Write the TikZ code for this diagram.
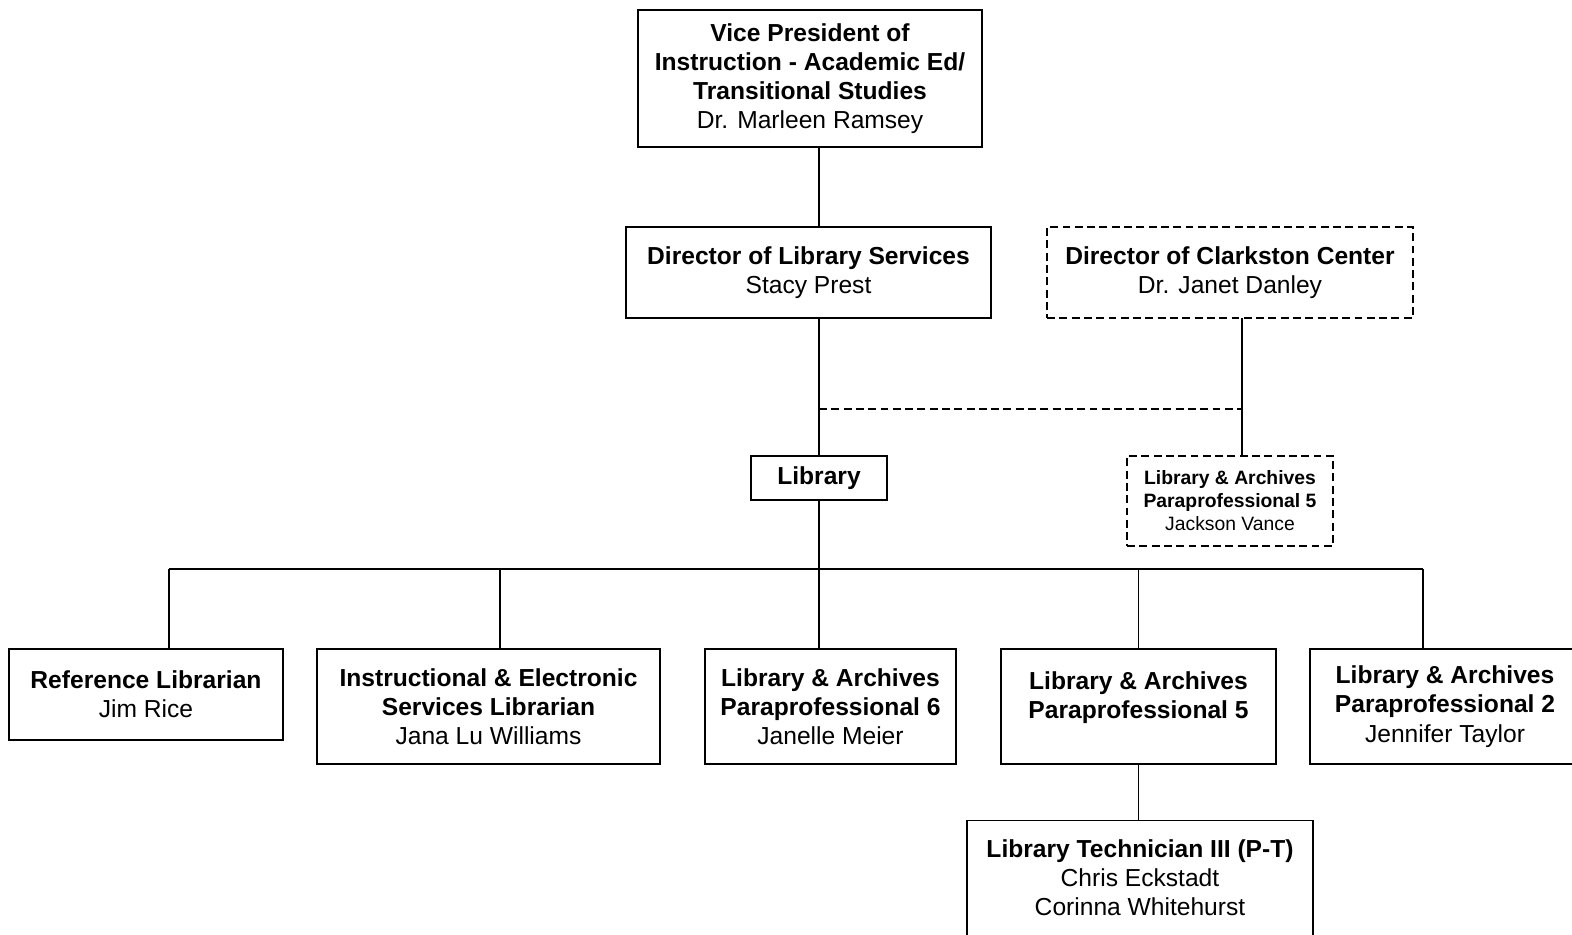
\documentclass[tikz,border=0pt]{standalone}
\usepackage{fontspec}
\setmainfont{Liberation Sans}
\usetikzlibrary{positioning, calc}

\begin{document}
\begin{tikzpicture}[
        x=0.02cm, y=-0.02cm,
        box/.style={rectangle, draw=black, line width=0.7pt, align=center, inner sep=0pt, font=\fontsize{14}{16.6}\selectfont},
        dbox/.style={box, dash pattern=on 4.5pt off 2.5pt},
        line/.style={draw=black, line width=0.7pt},
        dline/.style={line, dash pattern=on 4.5pt off 2.5pt}
    ]
        \useasboundingbox (0,0) rectangle (1572,934);
        \clip (0,0) rectangle (1572,934);

        \node[box, minimum width=6.88cm, minimum height=2.74cm] (vp) at (810,78.5) {\textbf{Vice President of}\\\textbf{Instruction - Academic Ed/}\\\textbf{Transitional Studies}\\Dr. Marleen Ramsey};
        \node[box, minimum width=7.3cm, minimum height=1.82cm] (dirlib) at (808.5,272.5) {\textbf{Director of Library Services}\\Stacy Prest};
        \node[dbox, minimum width=7.32cm, minimum height=1.82cm] (dircc) at (1230,272.5) {\textbf{Director of Clarkston Center}\\Dr. Janet Danley};
        \node[box, minimum width=2.72cm, minimum height=0.88cm] (lib) at (819,478) {\textbf{Library}};
        \node[dbox, minimum width=4.12cm, minimum height=1.8cm, font=\fontsize{11}{13.1}\selectfont] (lapcc) at (1230,501) {\textbf{Library \& Archives}\\\textbf{Paraprofessional 5}\\Jackson Vance};

        \node[box, minimum width=5.48cm, minimum height=1.82cm] (ref) at (146,694.5) {\textbf{Reference Librarian}\\Jim Rice};
        \node[box, minimum width=6.86cm, minimum height=2.3cm] (instr) at (488.5,706.5) {\textbf{Instructional \& Electronic}\\\textbf{Services Librarian}\\Jana Lu Williams};
        \node[box, minimum width=5.02cm, minimum height=2.3cm] (lapsix) at (830.5,706.5) {\textbf{Library \& Archives}\\\textbf{Paraprofessional 6}\\Janelle Meier};
        \node[box, minimum width=5.5cm, minimum height=2.3cm] (lapfive) at (1138.5,706.5) {\textbf{Library \& Archives}\\\textbf{Paraprofessional 5}\\[-4pt]\mbox{}};
        \node[box, minimum width=5.4cm, minimum height=2.3cm] (laptwo) at (1445,706.5) {\textbf{Library \& Archives}\\\textbf{Paraprofessional 2}\\Jennifer Taylor};
        \node[box, minimum width=6.92cm, minimum height=2.3cm] (tech) at (1140,878) {\textbf{Library Technician III (P-T)}\\Chris Eckstadt\\Corinna Whitehurst};

        \coordinate (bus) at (819,569);
        \coordinate (split) at (819,409);

        \draw[line] (vp.south -| lib) -- (dirlib.north -| lib);
        \draw[line] (dirlib.south -| lib) -- (lib.north);
        \draw[line] (1242,318) -- (lapcc.north -| 1242,0);
        \draw[dline] (split) -- (split -| 1242,0);
        \draw[line] (lib.south) -- (bus);
        \draw[line] (bus -| 169,0) -- (bus -| 1423,0);
        \draw[line] (bus -| 169,0) -- (ref.north -| 169,0);
        \draw[line] (bus -| 500,0) -- (instr.north -| 500,0);
        \draw[line] (bus) -- (lapsix.north -| bus);
        \draw[line] (bus -| lapfive) -- (lapfive.north);
        \draw[line] (bus -| 1423,0) -- (laptwo.north -| 1423,0);
        \draw[line] (lapfive.south) -- (tech.north -| lapfive);
    \end{tikzpicture}
\end{document}
